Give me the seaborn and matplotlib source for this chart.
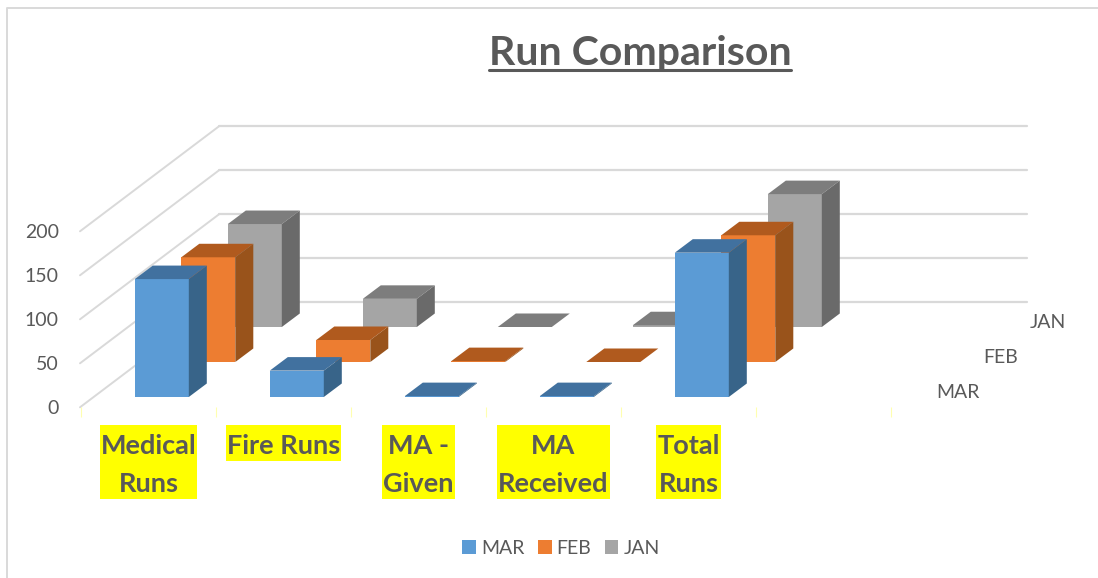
import pandas as pd
import seaborn as sns
import matplotlib.pyplot as plt
from matplotlib.lines import Line2D
from matplotlib.patches import Patch, Rectangle

# values
categories = ["Medical Runs", "Fire Runs", "MA - Given", "MA Received", "Total Runs", " "]
labels = ["Medical\nRuns", "Fire Runs", "MA -\nGiven", "MA\nReceived", "Total\nRuns"]
mar = [134, 30, 1, 1, 164, None]
feb = [119, 25, 1, 0, 144, None]
jan = [117, 32, 0, 2, 151, None]
series = ["MAR", "FEB", "JAN"]
y_ticks = [0, 50, 100, 150, 200]

colors = {"MAR": "#5b9bd5", "FEB": "#ed7d31", "JAN": "#a5a5a5"}
tops = {"MAR": "#41719f", "FEB": "#b05a1e", "JAN": "#7d7d7d"}
sides = {"MAR": "#386489", "FEB": "#99531b", "JAN": "#6a6a6a"}
text_col = "#595959"

W, H = 1098, 578
CAT = 135       # px per category
UNIT = 0.88     # px per value
DEPTH = (46.5, 35)   # px shift of one series row
BAR = (18, 13.5)     # px depth of a bar

sns.set_theme(style="white")
plt.rcParams["font.family"] = ["Lato", "DejaVu Sans"]

fig = plt.figure(figsize=(W / 100, H / 100), dpi=100)


def axes_at(x, y0):
    # axes with its lower left at pixel x, y0 (from the top), six categories wide
    ax = fig.add_axes([x / W, 1 - y0 / H, 6 * CAT / W, 200 * UNIT / H])
    ax.patch.set_alpha(0)
    ax.set_ylim(0, 200)
    for s in ax.spines.values():
        s.set_visible(False)
    return ax


# outer frame
fig.add_artist(Line2D([7 / W, 7 / W, 1], [0, 1 - 7.5 / H, 1 - 7.5 / H], color="#d9d9d9", lw=1.4))

# back wall grid and the lines running to the front
wall = fig.add_axes([219 / W, 1 - 302.3 / H, 808 / W, 200 * UNIT / H])
wall.patch.set_alpha(0)
wall.set_ylim(0, 200)
wall.set_xlim(0, 808)
for s in wall.spines.values():
    s.set_visible(False)
wall.set_xticks([])
wall.set_yticks([])
for t in y_ticks:
    wall.plot([0, 808], [t, t], color="#d9d9d9", lw=1.6, clip_on=False)
    wall.plot([-139, 0], [t - 105 / UNIT, t], color="#d9d9d9", lw=1.4, clip_on=False)

# one axes per series row, furthest first
rows = {"MAR": mar, "FEB": feb, "JAN": jan}
for d, name in reversed(list(enumerate(series))):
    ax = axes_at(94.3 + DEPTH[0] * d, 397 - DEPTH[1] * d)
    df = pd.DataFrame({"cat": categories, "val": rows[name]})
    sns.barplot(data=df, x="cat", y="val", order=categories, color=colors[name],
                saturation=1, width=0.4, linewidth=0, ax=ax)
    ax.set_ylim(0, 200)
    ax.set_xlim(-0.5, 5.5)
    ax.set_xticks([])
    ax.set_yticks([])
    ax.set_xlabel("")
    ax.set_ylabel("")
    bx = BAR[0] / CAT
    by = BAR[1] / UNIT
    for p in ax.patches:
        x0, w, h = p.get_x(), p.get_width(), p.get_height()
        if pd.isna(h):
            continue
        ax.fill([x0, x0 + w, x0 + w + bx, x0 + bx], [h, h, h + by, h + by],
                color=tops[name], lw=0, clip_on=False, zorder=3)
        ax.fill([x0 + w, x0 + w + bx, x0 + w + bx, x0 + w], [0, by, h + by, h],
                color=sides[name], lw=0, clip_on=False, zorder=3)
    ax.text(5.74, 5, name, ha="left", va="center", color=text_col, fontsize=14,
            clip_on=False)

# front axis: value labels, category labels, pale ticks
front = axes_at(81, 407)
front.set_xlim(0, 6)
front.set_xticks(range(7))
front.set_xticklabels([])
front.set_yticks(y_ticks)
front.set_yticklabels([str(t) for t in y_ticks], color=text_col, fontsize=14)
front.tick_params(axis="y", length=0, pad=16)
front.tick_params(axis="x", length=7, width=0.8, color="#ffffb0", bottom=True, pad=0)
texts = []
for i, lab in enumerate(labels):
    texts.append(front.annotate(lab, (i + 0.5, 0), xytext=(0, -27 * 0.72), textcoords="offset points",
                                ha="center", va="top", fontsize=19.5, fontweight="bold",
                                color=text_col, linespacing=1.7, annotation_clip=False))

# yellow highlight, taller than the text extent
fig.canvas.draw()
to_fig = fig.transFigure.inverted()
for t in texts:
    bb = t.get_window_extent().transformed(to_fig)
    top, bottom, side = 9 / H, 3 / H, 1 / W
    fig.add_artist(Rectangle((bb.x0 - side, bb.y0 - bottom), bb.width + 2 * side,
                             bb.height + top + bottom, transform=fig.transFigure,
                             facecolor="#ffff00", edgecolor="none", zorder=-1))

# title with underline
fig.text(640 / W, 1 - 54 / H, "Run Comparison", ha="center", va="center", color=text_col,
         fontsize=29.5, fontweight="bold")
fig.add_artist(Line2D([489 / W, 791 / W], [1 - 70 / H, 1 - 70 / H], color=text_col, lw=2.2))

# legend
handles = [Patch(facecolor=colors[s], linewidth=0, label=s) for s in series]
fig.legend(handles=handles, loc="center", bbox_to_anchor=(561 / W, 1 - 548 / H), ncol=3,
           frameon=False, fontsize=14, labelcolor=text_col, handlelength=0.7,
           handleheight=0.7, handletextpad=0.25, columnspacing=0.7)

fig.savefig("out.png", dpi=100)
